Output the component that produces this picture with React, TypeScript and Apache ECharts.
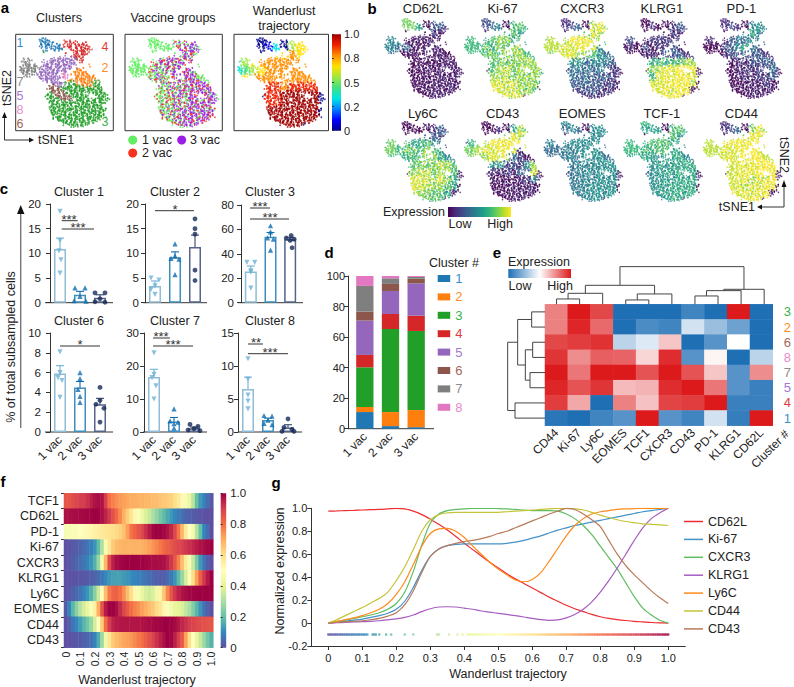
import React, { useEffect, useRef } from "react";
import * as echarts from "echarts";

const FONT = '"Liberation Sans", Arial, sans-serif';
const INK = "#222222";

// ---------- tSNE cloud ----------
const clusterMask = [
  ".................................................",
  ".................................................",
  "............1111.................................",
  "............111111......4.44.4...................",
  "............1111111.....444.4.4.44.4.............",
  "............11.111.1111.4.44444.4444.............",
  ".............111.111111...44.44444444............",
  "..............11...11111...44.444444.4...........",
  ".............................44444444............",
  ".............3...........4...444444.4............",
  "............................4444444..............",
  "......................5.55.5.444.4...............",
  "....77...........5.555555.55555.44...............",
  "...77777......5.55555.555555.5.44................",
  "....777......5.5555555555555.5...................",
  "....7777777...5555.55555555555.......2...........",
  "..777777777.5.55555.5555.555..5..................",
  "..7777777777.555555555.5555...2222...............",
  "..777777777.5555.55555.555...222222..............",
  "...777777..55555555555.88.....2222222............",
  "....777....5555.5555...888..22222222222..........",
  "...........555555555555888...22222222222.........",
  ".............55555555.....222.222222222.2........",
  "...............5555.555.....3.222222222.33.......",
  "..................555555.33333.222222.3333.......",
  ".................666.555.3333333.222222.333......",
  "................66666..33333333333333333333......",
  ".................666666333333333333.33333333.....",
  ".................3666666.3333333333333333333.....",
  "................33.666666.33333333.....333333....",
  "...............3333.6666666.33333333.....33333...",
  "................33333.666666.3333333....33333....",
  "................333333.66666..33333333.33333333..",
  ".................3333333.3333.33333333333333.3...",
  ".................333.33333333.3333333.333333.....",
  ".................33333.33333333.33333333.33......",
  ".................333333333.333333333.33333333....",
  ".................33333.3333333.3333333333.333....",
  ".................3333333333.33333333.33333333....",
  "..................333.333333333.333333333333.....",
  "..................33333333.33333333.333.33333....",
  "...................3333.3333333333333333333......",
  "....................333333.333333.33333333.......",
  "......................33333333.333333.33.........",
  "........................3333333.33333............",
  "...........................3333333...............",
];

const vaccineMask = [
  "ggggggggggggggggggggggggggggggggggggggggggggggggg",
  "ggggggggggggggggggggggggggggggggggggggggggggggggg",
  "ggggggggggggggggggggggggggggggggggggggggggggggggg",
  "ggggggggggggggggggggggggggpgprgpgggg",
  "ggggggggggggggggggggggggpgrgggppgprp",
  "ggggggggggggggggggggggggggprgpgrpppgp",
  "gggggggggggggggggggggggggpgrpprppgpp",
  "gggggggggggggggggggggggggggprpgrppgpp",
  "gggggggggggggggggggggggggggggpprgpprp",
  "ggggggggggggggggggggggggggggprpgprpp",
  "gggggggggggggggggggggggggggprgppgr",
  "ggggggggggggggggggggggprgprpgrpprg",
  "ggggggggggggggggggprgppgrppprgpgrp",
  "ggggggggggggggrgpgprrgpppgrprpgpr",
  "gggggggggggggrgpgrpgprppgrppgrp",
  "gggggggggggggggrpgpgrpppgprgpprpgr",
  "gggggggggggggrggprgpgpgrppgprgpgrp",
  "ggggggggggggggrgpgggprpgprppgpprpgp",
  "gggggggggggggrgpgrggprgpgpprgprppgp",
  "ggggggggggggrgggpgrgpgprpgpprgpprpg",
  "gggggggggggggrgpgprggpgrpprgppgrpppr",
  "gggggggggggrgpggrgpgprggrpgpprgpprppg",
  "gggggggggggggggrpgpgrgpprggprgpprpgpprg",
  "ggggggggggggggggrgpgpgrpprgpgpprgppprpgp",
  "ggggggggggggggggggrgpgpgrgpgprpgpprpgrppp",
  "ggggggggggggggggggggrgpgrppgrgpgpprgprppgpr",
  "ggggggggggggggggrgpgggrpgpgrpgprgpprgprppgp",
  "gggggggggggggggggrgggprgpgrpgprppgrpppgprpppr",
  "gggggggggggggggggggrggpgrgpgpprggrpprpppgrppg",
  "gggggggggggggggggrgpgrgpgrgpprgpgprpppgpprpgp",
  "ggggggggggggggggrggpgggrpgprgpggrpprppgrpppgp",
  "gggggggggggggggggggrgpgrgpgpprggpprpgpgrpprpp",
  "ggggggggggggggggrggpgrgggrpgpgrgppgrpprppgrppp",
  "gggggggggggggggggrgggprggpgrpgprgppprgpgrppprp",
  "ggggggggggggggggggprggrgpgprggrpgpppgrppprpgp",
  "gggggggggggggggggggrgpggrppgprgppgrppprgpprpp",
  "gggggggggggggggggrgggpgrgpgrpggprppgppprgpgpr",
  "ggggggggggggggggggrggprgggpgrppgprpppgrppprpg",
  "gggggggggggggggggrgpgggrpgrgppgprppgrppppgrpp",
  "gggggggggggggggggggrgggpgpgrgppgrpprppgppprp",
  "ggggggggggggggggggrpgggrgppgrpgpprpppgrpppgpr",
  "ggggggggggggggggggggrgpgpgrgpprppgppprgpppr",
  "gggggggggggggggggggggrgggprgpgprpprpgppprp",
  "ggggggggggggggggggggggggrgppgrpgppprpgpr",
  "ggggggggggggggggggggggggggrgpgprppgrp",
  "gggggggggggggggggggggggggggprgppgp",
];

// coarse expression maps: one digit for every 4x4 lattice cells (0 low .. 9 high)
const mapCD62L = ["0088880330000", "0088860220000", "0000010100000", "5560000000000", "5543100000000", "4400000000000", "0000000000000", "0000000000000", "0000000000000", "0000000000000", "0000000000000", "0000000000000"];
const mapKi67 = ["0033330666000", "0003450666000", "0000066655000", "6776677566000", "7777676777000", "7777777777700", "0000777777700", "0000788777770", "0000888777760", "0000998877760", "0000998877600", "0000099880000"];
const mapCXCR3 = ["0022220777000", "0002340888000", "0000077888000", "8998999877000", "9999999844000", "8899987644400", "0000553443200", "0000443332100", "0000433322100", "0000333221100", "0000222211000", "0000011100000"];
const mapKLRG1 = ["0011110111000", "0001210122000", "0000011111000", "2311111111000", "1212111211000", "1111112222200", "0000666667700", "0000889999900", "0000699999800", "0000999999800", "0000999899000", "0000099990000"];
const mapPD1 = ["0022220333000", "0002320444000", "0000034544000", "1211233433000", "1112345322000", "1111232222200", "0000111222200", "0000011111300", "0000011111200", "0000000001000", "0000000000000", "0000000000000"];
const mapLy6C = ["0011110111000", "0001110122000", "0000023222000", "7877556433000", "8877767655000", "6776677755500", "0000777787600", "0000888777600", "0000998887500", "0000998776500", "0000887665000", "0000077660000"];
const mapCD43 = ["0011110333000", "0001120577000", "0000078988000", "3788999999000", "8899999811000", "7888998311100", "0000552214700", "0000211122800", "0000100001300", "0000000000000", "0000000000000", "0000000000000"];
const mapEOMES = ["0055550444000", "0004540444000", "0000044444000", "4544444444000", "4444444444000", "4444444444400", "0000444444400", "0000444444400", "0000444444400", "0000444444400", "0000444444400", "0000044440000"];
const mapTCF1 = ["0077770666000", "0006660666000", "0000066655000", "7776666555000", "7776666555000", "7666555555500", "0000555555500", "0000555555500", "0000555555500", "0000555555500", "0000555555500", "0000055550000"];
const mapCD44 = ["0022220555000", "0002340788000", "0000088999000", "9999999999000", "9999999999000", "9999999999900", "0000999999900", "0000999999900", "0000999888900", "0000998889900", "0000999889000", "0000099990000"];
const mapWanderlust = ["0000000555000", "0000130566000", "0000066766000", "4567777777000", "3456777777000", "5677777777700", "0000887888800", "0000889999900", "0000889999900", "0000999999900", "0000999999900", "0000099990000"];

const expressionPanels = [
  { name: "CD62L", map: mapCD62L }, { name: "Ki-67", map: mapKi67 }, { name: "CXCR3", map: mapCXCR3 }, { name: "KLRG1", map: mapKLRG1 }, { name: "PD-1", map: mapPD1 },
  { name: "Ly6C", map: mapLy6C }, { name: "CD43", map: mapCD43 }, { name: "EOMES", map: mapEOMES }, { name: "TCF-1", map: mapTCF1 }, { name: "CD44", map: mapCD44 },
];

// ---------- panel c ----------
const vacLabels = ["1 vac", "2 vac", "3 vac"];
const cluster1Bars = [10.9, 1.6, 1.0];
const cluster1Err = [2.2, 0.7, 0.6];
const cluster1Pts = [[[0, 18.5], [0, 12.6], [-0.05, 10.5], [0.05, 8.7], [0, 6]], [[-0.25, 3], [0.25, 3], [0, 1.3], [-0.3, 0.4], [0.3, 0.3]], [[-0.25, 2], [0.25, 2], [0, 0.8], [-0.25, 0.2], [0.25, 0.1]]];
const cluster2Bars = [3.4, 9.2, 11.3];
const cluster2Err = [1.0, 1.1, 2.4];
const cluster2Pts = [[[-0.2, 5], [0.2, 4.6], [0, 3.4], [-0.2, 2.7], [0, 1.7]], [[0, 11.9], [0, 9.5], [-0.2, 9], [0.2, 8.8], [0, 5.7]], [[0, 17], [0, 15], [0, 13.9], [0, 6.6], [0, 4.5]]];
const cluster3Bars = [25.5, 54, 52];
const cluster3Err = [4.5, 3.5, 1.5];
const cluster3Pts = [[[-0.2, 33], [0.2, 33], [0, 26], [0, 25], [0, 12]], [[0, 63], [0, 58], [-0.15, 53], [0.15, 52], [0, 43]], [[0.05, 55], [-0.2, 53], [0.2, 52], [0, 51], [0.1, 45]]];
const cluster6Bars = [5.9, 4.5, 2.8];
const cluster6Err = [0.8, 0.6, 0.6];
const cluster6Pts = [[[0, 8.1], [0, 6], [-0.1, 5.5], [0.1, 5.2], [0, 3.5]], [[0, 6], [0, 5.4], [-0.1, 4.3], [0, 3.6], [0, 3]], [[0, 4.5], [0, 3.2], [-0.2, 2.8], [0.2, 2.4], [0, 1]]];
const cluster7Bars = [16.7, 3.2, 1.1];
const cluster7Err = [2.3, 1.2, 0.4];
const cluster7Pts = [[[0, 24], [0, 17.5], [-0.1, 16.5], [0.1, 14], [0, 10]], [[0, 7], [-0.2, 3.4], [0.2, 3], [0, 2.5], [0, 1.2]], [[-0.2, 2.3], [0.2, 1.7], [0, 1], [-0.3, 0.6], [0.3, 0.4]]];
const cluster8Bars = [6.5, 1.8, 0.7];
const cluster8Err = [1.8, 0.3, 0.4];
const cluster8Pts = [[[0, 11.1], [0, 8], [0, 5.6], [0, 4.7], [0, 3.5]], [[-0.2, 2.5], [0.2, 2.4], [0, 1.8], [-0.2, 1.3], [0.2, 1.1]], [[0, 2], [-0.2, 0.7], [0.2, 0.4], [-0.3, 0.1], [0.3, 0.1]]];

const barStroke = ["#8fbcd6", "#3f8dbd", "#56648a"];
const pointColor = ["#6fb1d6", "#0f6cae", "#162a57"];

// ---------- panel d ----------
const clusterColors = ["#1f77b4", "#ff7f0e", "#229f28", "#d62728", "#9467bd", "#8c564b", "#7f7f7f", "#e377c2"];
const clusterTextColors = ["#3a8fd0", "#ff8c1e", "#37b34a", "#e03c3c", "#a678d0", "#a0685a", "#8c8c8c", "#ea8ccc"];
const stack1vac = [10.9, 3.3, 26, 8.1, 22.5, 5.9, 16.8, 6.6];
const stack2vac = [1.7, 9.2, 54.4, 9.8, 15.1, 4.6, 3.7, 1.5];
const stack3vac = [1, 11.2, 51.8, 10, 21.2, 3, 1.2, 0.7];

// ---------- panel e ----------
const heatGenes = ["CD44", "Ki-67", "Ly6C", "EOMES", "TCF1", "CXCR3", "CD43", "PD-1", "KLRG1", "CD62L"];
const heatClusters = ["3", "2", "6", "8", "7", "5", "4", "1"];
const heatRow3 = [0.55, 1, 0.8, -1, -1, -1, -0.85, -1, 1, -1];
const heatRow2 = [0.55, 0.95, 0.65, -1, -0.8, -0.85, -0.2, -0.45, -0.65, -1];
const heatRow6 = [0.8, 0.85, 0.9, -0.3, -0.15, 0.25, -1, -0.75, 0, -1];
const heatRow8 = [0.88, 0.5, 0.7, 0.68, 0.18, 0.92, -0.75, 0.05, -1, -0.3];
const heatRow7 = [1, 0.6, 1, 1, 0.75, 1, 0.75, 0.25, -0.75, 0.5];
const heatRow5 = [0.95, 0.75, 0.88, 0.3, 0.33, 0.92, 1, 0.6, -0.75, -0.88];
const heatRow4 = [0.85, 0.38, -1, 0.55, 0.27, 0.82, 0.85, 1, -0.88, -0.88];
const heatRow1 = [-0.95, -1, -0.85, -0.75, 1, -0.75, -0.85, -0.2, -0.9, 1];
const heatRows = [heatRow3, heatRow2, heatRow6, heatRow8, heatRow7, heatRow5, heatRow4, heatRow1];
// merges: position a, height a, position b, height b, merge height
const geneTree = [[0.5, 0, 1.5, 0, 16], [1, 16, 2.5, 0, 33], [3.5, 0, 4.5, 0, 13], [4, 13, 5.5, 0, 31], [1.75, 33, 4.75, 31, 57], [6.5, 0, 7.5, 0, 25], [7, 25, 8.5, 0, 41], [7.75, 41, 9.5, 0, 45], [3.25, 57, 8.625, 45, 113]];
const clusterTree = [[0.5, 0, 1.5, 0, 40], [2.5, 0, 3.5, 0, 37], [4.5, 0, 5.5, 0, 45], [3, 37, 5, 45, 59], [1, 40, 4, 59, 82], [6.5, 0, 7.5, 0, 90], [2.5, 82, 7, 90, 112]];

// ---------- panels f and g ----------
const trajectory = [0, 0.025, 0.05, 0.075, 0.1, 0.125, 0.15, 0.175, 0.2, 0.225, 0.25, 0.275, 0.3, 0.325, 0.35, 0.375, 0.4, 0.425, 0.45, 0.475, 0.5, 0.525, 0.55, 0.575, 0.6, 0.625, 0.65, 0.675, 0.7, 0.725, 0.75, 0.775, 0.8, 0.825, 0.85, 0.875, 0.9, 0.925, 0.95, 0.975, 1];
const CD62L = [0.975, 0.977, 0.98, 0.982, 0.985, 0.988, 0.99, 0.995, 1, 0.995, 0.975, 0.945, 0.905, 0.86, 0.81, 0.755, 0.695, 0.64, 0.585, 0.53, 0.48, 0.43, 0.385, 0.345, 0.305, 0.265, 0.225, 0.19, 0.155, 0.125, 0.1, 0.075, 0.055, 0.04, 0.03, 0.022, 0.015, 0.01, 0.005, 0.002, 0];
const Ki67 = [0, 0.008, 0.016, 0.025, 0.035, 0.05, 0.065, 0.085, 0.12, 0.19, 0.31, 0.46, 0.58, 0.645, 0.675, 0.685, 0.69, 0.69, 0.69, 0.69, 0.69, 0.695, 0.705, 0.72, 0.74, 0.76, 0.785, 0.81, 0.83, 0.85, 0.865, 0.88, 0.895, 0.91, 0.925, 0.94, 0.955, 0.97, 0.98, 0.99, 1];
const CXCR3 = [0, 0.012, 0.025, 0.04, 0.055, 0.07, 0.09, 0.12, 0.17, 0.27, 0.45, 0.68, 0.87, 0.95, 0.98, 0.99, 0.995, 1, 1, 1, 0.998, 0.995, 0.99, 0.985, 0.98, 0.98, 0.98, 0.975, 0.95, 0.91, 0.85, 0.77, 0.67, 0.57, 0.47, 0.35, 0.23, 0.13, 0.07, 0.025, 0];
const KLRG1 = [0, 0.003, 0.006, 0.009, 0.012, 0.015, 0.02, 0.028, 0.037, 0.05, 0.07, 0.1, 0.125, 0.14, 0.142, 0.14, 0.13, 0.12, 0.105, 0.095, 0.085, 0.075, 0.065, 0.053, 0.04, 0.03, 0.024, 0.027, 0.045, 0.075, 0.12, 0.185, 0.27, 0.37, 0.48, 0.6, 0.72, 0.83, 0.91, 0.96, 1];
const Ly6C = [0, 0.015, 0.03, 0.045, 0.065, 0.09, 0.12, 0.17, 0.25, 0.36, 0.51, 0.67, 0.78, 0.82, 0.825, 0.8, 0.745, 0.67, 0.6, 0.53, 0.47, 0.42, 0.375, 0.36, 0.38, 0.44, 0.54, 0.65, 0.76, 0.85, 0.91, 0.95, 0.97, 0.98, 0.99, 0.995, 0.998, 1, 1, 1, 1];
const CD44 = [0, 0.03, 0.065, 0.1, 0.135, 0.175, 0.215, 0.27, 0.37, 0.49, 0.64, 0.8, 0.9, 0.945, 0.96, 0.965, 0.965, 0.965, 0.965, 0.965, 0.965, 0.97, 0.975, 0.98, 0.985, 0.99, 0.995, 1, 1, 0.995, 0.985, 0.965, 0.94, 0.92, 0.9, 0.885, 0.875, 0.865, 0.86, 0.855, 0.85];
const CD43 = [0, 0.005, 0.01, 0.015, 0.02, 0.03, 0.04, 0.06, 0.09, 0.16, 0.28, 0.44, 0.58, 0.645, 0.675, 0.695, 0.71, 0.72, 0.735, 0.755, 0.78, 0.8, 0.83, 0.86, 0.89, 0.92, 0.95, 0.975, 1, 0.99, 0.95, 0.9, 0.84, 0.72, 0.6, 0.5, 0.42, 0.35, 0.28, 0.22, 0.17];
const TCF1 = [0.85, 0.85, 0.87, 0.88, 0.9, 0.9, 0.92, 0.95, 0.97, 0.98, 0.97, 0.9, 0.8, 0.77, 0.75, 0.73, 0.72, 0.71, 0.7, 0.7, 0.69, 0.69, 0.68, 0.68, 0.67, 0.67, 0.66, 0.65, 0.64, 0.63, 0.6, 0.57, 0.52, 0.47, 0.42, 0.33, 0.2, 0.13, 0.09, 0.05, 0.02];
const PD1 = [0.47, 0.47, 0.48, 0.48, 0.5, 0.51, 0.52, 0.53, 0.55, 0.56, 0.57, 0.58, 0.59, 0.6, 0.61, 0.63, 0.66, 0.72, 0.79, 0.82, 0.85, 0.88, 0.92, 0.96, 0.99, 1, 1, 0.99, 0.97, 0.94, 0.88, 0.79, 0.68, 0.57, 0.5, 0.45, 0.32, 0.2, 0.1, 0.05, 0];
const EOMES = [0.02, 0.1, 0.18, 0.25, 0.32, 0.37, 0.42, 0.48, 0.55, 0.7, 0.85, 0.96, 1, 1, 0.98, 0.93, 0.88, 0.84, 0.8, 0.77, 0.75, 0.72, 0.7, 0.67, 0.65, 0.61, 0.58, 0.53, 0.48, 0.45, 0.42, 0.4, 0.38, 0.34, 0.3, 0.24, 0.18, 0.12, 0.06, 0.03, 0];
const fRows = [["TCF1", TCF1], ["CD62L", CD62L], ["PD-1", PD1], ["Ki-67", Ki67], ["CXCR3", CXCR3], ["KLRG1", KLRG1], ["Ly6C", Ly6C], ["EOMES", EOMES], ["CD44", CD44], ["CD43", CD43]] as const;
const gLines = [["CD62L", CD62L, "#ee2b30"], ["Ki-67", Ki67, "#4392c9"], ["CXCR3", CXCR3, "#5fbc5f"], ["KLRG1", KLRG1, "#a65cc2"], ["Ly6C", Ly6C, "#ff8a1c"], ["CD44", CD44, "#c4c43a"], ["CD43", CD43, "#b87a5a"]] as const;
const earlyCells = [0, 0.005, 0.01, 0.015, 0.02, 0.025, 0.03, 0.035, 0.04, 0.045, 0.05, 0.055, 0.06, 0.065, 0.07, 0.075, 0.08, 0.085, 0.09, 0.095, 0.1, 0.105, 0.11, 0.115, 0.13, 0.135, 0.14, 0.15, 0.17, 0.185, 0.225, 0.25, 0.32, 0.325, 0.355, 0.38, 0.395];
const lateCells = [0.41, 0.415, 0.42, 0.425, 0.43, 0.435, 0.44, 0.445, 0.45, 0.455, 0.46, 0.465, 0.47, 0.475, 0.48, 0.485, 0.49, 0.495, 0.5, 0.505, 0.51, 0.515, 0.52, 0.525, 0.53, 0.535, 0.54, 0.545, 0.55, 0.555, 0.56, 0.565, 0.57, 0.575, 0.58, 0.585, 0.59, 0.595, 0.6, 0.605, 0.61, 0.615, 0.62, 0.625, 0.63, 0.635, 0.64, 0.645, 0.65, 0.655, 0.66, 0.665, 0.67, 0.675, 0.68, 0.685, 0.69, 0.695, 0.7, 0.705, 0.71, 0.715, 0.72, 0.725, 0.73, 0.735, 0.74, 0.745, 0.75, 0.755, 0.76, 0.765, 0.77, 0.775, 0.78, 0.785, 0.79, 0.795, 0.8, 0.805, 0.81, 0.815, 0.82, 0.825, 0.83, 0.835, 0.84, 0.845, 0.85, 0.855, 0.86, 0.865, 0.87, 0.875, 0.88, 0.885, 0.89, 0.895, 0.9, 0.905, 0.91, 0.915, 0.92, 0.925, 0.93, 0.935, 0.94, 0.945, 0.95, 0.955, 0.96, 0.965, 0.97, 0.975, 0.98, 0.985, 0.99, 0.995, 1];
const cellPositions = [...earlyCells, ...lateCells];
const unitTicks = [0, 0.1, 0.2, 0.3, 0.4, 0.5, 0.6, 0.7, 0.8, 0.9, 1];

const viridis = ["#440154", "#482878", "#3e4989", "#31688e", "#26828e", "#1f9e89", "#35b779", "#6ece58", "#b5de2b", "#fde725"];
const jet = ["#00008b", "#0000ff", "#0080ff", "#00e5e5", "#40e080", "#a0e840", "#ffe000", "#ff9000", "#f02000", "#a00000"];
const spectral = ["#5e4fa2", "#3288bd", "#66c2a5", "#abdda4", "#e6f598", "#ffffbf", "#fee08b", "#fdae61", "#f46d43", "#d53e4f", "#9e0142"];
const blueRed = ["#1f6fb5", "#ffffff", "#dc1a1c"];
const clusterPalette: any = { 1: clusterColors[0], 2: clusterColors[1], 3: clusterColors[2], 4: clusterColors[3], 5: clusterColors[4], 6: clusterColors[5], 7: clusterColors[6], 8: clusterColors[7] };
const vaccinePalette: any = { g: "#62ee62", r: "#f4321e", p: "#9a1fe6" };
const vaccineShift: any = { g: -1, r: 0, p: 1 };
// small sub-cell nudges that break up the drawing lattice (style, in lattice cells)
const nudgeX = [0.6, -0.5, 0.2, -0.7, 0.4, 0.8, -0.2, -0.6, 0.7, -0.3, 0.1, 0.5, -0.8, 0.3, -0.4];
const nudgeY = [-0.4, 0.7, -0.7, 0.2, 0.6, -0.2, 0.4, -0.6, 0.1, 0.8, -0.5, 0.3, -0.3, 0.7, -0.8, 0.5, 0];

function buildOption() {
  const grids: any[] = [], xAxes: any[] = [], yAxes: any[] = [], series: any[] = [], graphics: any[] = [], visualMaps: any[] = [];
  const T = (text: string, x: number, y: number, o: any = {}) =>
    graphics.push({ type: "text", x, y, rotation: o.rot || 0, silent: true, style: { text, fill: o.color || INK, font: `${o.weight || "normal"} ${o.size || 12.5}px ${FONT}`, textAlign: o.align || "center", textVerticalAlign: "middle" } });
  const L = (x1: number, y1: number, x2: number, y2: number, color = "#333", w = 1) =>
    graphics.push({ type: "line", silent: true, shape: { x1, y1, x2, y2 }, style: { stroke: color, lineWidth: w } });
  const Head = (pts: number[][]) => graphics.push({ type: "polygon", silent: true, shape: { points: pts }, style: { fill: "#111" } });
  const Grad = (x: number, y: number, w: number, h: number, colors: string[], vertical: boolean) =>
    graphics.push({
      type: "rect", silent: true, shape: { x, y, width: w, height: h },
      style: { fill: new echarts.graphic.LinearGradient(0, vertical ? 1 : 0, vertical ? 0 : 1, 0, colors.map((color, i) => ({ offset: i / (colors.length - 1), color }))) },
    });

  const addGrid = (left: number, top: number, width: number, height: number, extra: any = {}) => {
    grids.push({ left, top, width, height, containLabel: false, ...extra });
    return grids.length - 1;
  };

  // ---- tSNE clouds: every mask cell is drawn as two cells' worth of points ----
  const cells: { x: number; y: number; r: number; c: number; k: string; v: string }[] = [];
  clusterMask.forEach((row, r) => {
    for (let c = 0; c < row.length; c++)
      if (row[c] !== ".") {
        cells.push({
          r, c, k: row[c], v: vaccineMask[r]?.[c] || "g",
          x: c + 0.5 + nudgeX[(c + r * 4) % nudgeX.length],
          y: r + 0.5 + nudgeY[(c * 3 + r) % nudgeY.length],
        });
        cells.push({
          r, c, k: row[c], v: vaccineMask[r]?.[c + 1] || vaccineMask[r]?.[c] || "g",
          x: c + 0.5 + nudgeX[(c * 2 + r * 3 + 7) % nudgeX.length],
          y: r + 0.5 + nudgeY[(c + r * 5 + 3) % nudgeY.length],
        });
      }
  });
  const cloud = (left: number, top: number, w: number, h: number, color: (p: any) => string, size: number, box: boolean) => {
    const g = addGrid(left, top, w, h, box ? { show: true, borderColor: "#333", borderWidth: 1, backgroundColor: "#fff" } : {});
    xAxes.push({ gridIndex: g, type: "value", min: 0, max: 49, show: false });
    yAxes.push({ gridIndex: g, type: "value", min: 0, max: 48, inverse: true, show: false });
    series.push({
      type: "scatter", xAxisIndex: xAxes.length - 1, yAxisIndex: yAxes.length - 1, symbol: "circle", symbolSize: size, silent: true, progressive: 0, large: false,
      data: cells.map((p) => ({ value: [p.x, p.y], itemStyle: { color: color(p) } })),
    });
  };
  const digit = (map: string[], p: any) => Number(map[Math.floor(p.r / 4)]?.[Math.floor(p.c / 4)] ?? 0);
  cloud(15.7, 34.3, 97.6, 96.4, (p) => clusterPalette[p.k], 1.7, true);
  cloud(125, 34.3, 97.3, 96.4, (p) => vaccinePalette[p.v], 1.7, true);
  cloud(234, 34.3, 94.5, 96.4, (p) => jet[digit(mapWanderlust, p)], 1.7, true);
  expressionPanels.forEach((pan, i) => {
    const col = i % 5, row = Math.floor(i / 5);
    cloud(381.5 + col * 79.6, row === 0 ? 15.4 : 118.4, 85, 86, (p) => viridis[Math.max(0, Math.min(9, digit(pan.map, p) + vaccineShift[p.v]))], 1.5, false);
    T(pan.name, 423 + col * 79.6, row === 0 ? 8 : 113, { size: 13 });
  });

  // ---- a labels ----
  T("a", 5, 7, { size: 15, weight: "bold", color: "#000" });
  T("b", 372, 8, { size: 15, weight: "bold", color: "#000" });
  T("c", 4, 188, { size: 15, weight: "bold", color: "#000" });
  T("d", 329, 252, { size: 15, weight: "bold", color: "#000" });
  T("e", 497, 252, { size: 15, weight: "bold", color: "#000" });
  T("f", 3, 481, { size: 15, weight: "bold", color: "#000" });
  T("g", 276, 482, { size: 15, weight: "bold", color: "#000" });
  T("Clusters", 59, 18);
  T("Vaccine groups", 173, 18);
  T("Wanderlust", 284, 11);
  T("trajectory", 284, 26);
  [["1", 20, 43, 0], ["4", 105, 47, 3], ["2", 105, 68, 1], ["7", 20, 82, 6], ["5", 20, 96, 4], ["8", 20, 110, 7], ["6", 20, 124, 5], ["3", 105, 122, 2]].forEach((a: any) =>
    T(a[0], a[1], a[2], { size: 12.5, color: clusterTextColors[a[3]] }));
  T("tSNE2", 7, 88, { rot: Math.PI / 2 });
  T("tSNE1", 38, 140, { align: "left" });
  L(4.5, 140, 30, 140, "#333"); L(4.5, 140, 4.5, 118, "#333");
  Head([[34, 140], [29, 137.5], [29, 142.5]]);
  Head([[4.5, 112], [2, 118], [7, 118]]);
  [[132.7, 140, "g", "1 vac", 142], [181.7, 140, "p", "3 vac", 190], [132.7, 153, "r", "2 vac", 142]].forEach((a: any) => {
    graphics.push({ type: "circle", silent: true, shape: { cx: a[0], cy: a[1], r: 4.5 }, style: { fill: vaccinePalette[a[2]] } });
    T(a[3], a[4], a[1], { align: "left" });
  });
  // jet colour bar
  Grad(332, 34.3, 9, 96.4, jet, true);
  {
    const g = addGrid(332, 34.3, 9, 96.4);
    xAxes.push({ gridIndex: g, type: "value", min: 0, max: 1, show: false });
    yAxes.push({
      gridIndex: g, type: "value", position: "right", min: 0, max: 1, interval: 0.25, splitLine: { show: false },
      axisLine: { show: false }, axisTick: { show: true, length: 2, lineStyle: { color: "#333" } },
      axisLabel: { color: INK, fontSize: 11, margin: 3, formatter: (v: number) => ({ 0: "0", 0.25: "0.2", 0.5: "0.5", 0.75: "0.8", 1: "1.0" } as any)[v] },
    });
  }

  // ---- b furniture ----
  T("tSNE2", 784, 155, { rot: -Math.PI / 2 });
  T("tSNE1", 755, 207, { align: "right" });
  L(784, 207, 762, 207, "#333"); L(784, 207, 784, 187, "#333");
  Head([[757, 207], [762, 204.5], [762, 209.5]]);
  Head([[784, 180], [781.5, 187], [786.5, 187]]);
  T("Expression", 383, 212, { align: "left" });
  Grad(448, 207, 63, 10, viridis, false);
  T("Low", 460, 224);
  T("High", 500, 224);

  // ---- c ----
  const cPanel = (title: string, titleX: number, titleY: number, left: number, width: number, top: number, height: number, offset: number, axisEnd: number, yMax: number, yStep: number, bars: number[], err: number[], pts: number[][][], showLabels: boolean) => {
    const g = addGrid(left, top, width, height);
    xAxes.push({
      gridIndex: g, type: "category", data: vacLabels, axisLine: { show: false },
      axisTick: { alignWithLabel: true, length: 4, lineStyle: { color: "#333" } },
      axisLabel: showLabels ? { rotate: 45, fontSize: 12, color: INK, margin: 6, interval: 0 } : { show: false },
    });
    const xCat = xAxes.length - 1;
    xAxes.push({ gridIndex: g, type: "value", min: 0, max: 3, show: false });
    const xVal = xAxes.length - 1;
    yAxes.push({
      gridIndex: g, type: "value", min: 0, max: yMax, interval: yStep, offset, splitLine: { show: false },
      axisLine: { show: true, lineStyle: { color: "#333" } }, axisTick: { show: true, length: 4, lineStyle: { color: "#333" } },
      axisLabel: { color: INK, fontSize: 11.5, margin: 4 },
    });
    const y = yAxes.length - 1;
    L(left - offset, top + height, axisEnd, top + height);
    T(title, titleX, titleY);
    series.push({
      type: "bar", xAxisIndex: xCat, yAxisIndex: y, barWidth: 12, silent: true,
      data: bars.map((v, i) => ({ value: v, itemStyle: { color: "#fff", borderColor: barStroke[i], borderWidth: 1.5 } })),
    });
    series.push({
      type: "custom", xAxisIndex: xVal, yAxisIndex: y, silent: true, encode: { x: 0, y: [1, 2] },
      data: bars.map((v, i) => [i + 0.5, v - err[i], v + err[i], i]),
      renderItem: (_: any, api: any) => {
        const lo = api.coord([api.value(0), api.value(1)]), hi = api.coord([api.value(0), api.value(2)]);
        const stroke = barStroke[api.value(3)] === barStroke[2] ? "#33456f" : pointColor[api.value(3)];
        const line = (x1: number, y1: number, x2: number, y2: number) => ({ type: "line", shape: { x1, y1, x2, y2 }, style: { stroke, lineWidth: 1.1 } });
        return { type: "group", children: [line(lo[0], lo[1], hi[0], hi[1]), line(lo[0] - 4, lo[1], lo[0] + 4, lo[1]), line(hi[0] - 4, hi[1], hi[0] + 4, hi[1])] };
      },
    });
    pts.forEach((grp, i) =>
      series.push({
        type: "scatter", xAxisIndex: xVal, yAxisIndex: y, silent: true, symbol: i === 2 ? "circle" : "triangle", symbolRotate: i === 0 ? 180 : 0, symbolSize: i === 2 ? 4.8 : 5.2,
        itemStyle: { color: pointColor[i] }, data: grp.map((p) => [i + 0.5 + p[0], p[1]]),
      }));
  };
  cPanel("Cluster 1", 79, 192, 50, 60, 204, 98.7, 5, 113, 20, 5, cluster1Bars, cluster1Err, cluster1Pts, false);
  cPanel("Cluster 2", 175, 192, 145, 60, 204, 98.7, 2, 207, 20, 5, cluster2Bars, cluster2Err, cluster2Pts, false);
  cPanel("Cluster 3", 270, 192, 241, 59, 205, 97.7, 3, 303, 80, 20, cluster3Bars, cluster3Err, cluster3Pts, false);
  cPanel("Cluster 6", 79, 321, 50, 60, 333, 99, 5, 113, 10, 2, cluster6Bars, cluster6Err, cluster6Pts, true);
  cPanel("Cluster 7", 175, 321, 144, 60, 333, 99, 1, 207, 30, 10, cluster7Bars, cluster7Err, cluster7Pts, true);
  cPanel("Cluster 8", 270, 321, 238, 60, 333, 99, 0, 302, 15, 5, cluster8Bars, cluster8Err, cluster8Pts, true);
  const Sig = (x1: number, x2: number, y: number, stars: string, tx: number) => {
    L(x1, y, x2, y, "#333", 1);
    T(stars, tx, y - 1.5, { size: 13, color: "#333" });
  };
  Sig(61.7, 77.7, 220.7, "***", 69); Sig(61.7, 94, 229, "***", 78);
  Sig(155, 194, 210.7, "*", 175);
  Sig(250, 270, 208, "***", 260); Sig(250, 289, 219, "***", 270);
  Sig(60, 100, 346, "*", 80);
  Sig(153, 170, 338, "***", 161); Sig(153, 193, 346, "***", 173);
  Sig(248, 263, 344, "**", 256); Sig(248, 288, 353.7, "***", 270);
  T("% of total subsampled cells", 11, 347, { rot: Math.PI / 2 });
  L(20.7, 428, 20.7, 212, "#777", 1.4);
  Head([[20.7, 205], [17, 214], [24.5, 214]]);

  // ---- d ----
  {
    const g = addGrid(352, 276, 77, 152.7);
    xAxes.push({
      gridIndex: g, type: "category", data: vacLabels, axisLine: { show: false },
      axisTick: { alignWithLabel: true, length: 4, lineStyle: { color: "#333" } },
      axisLabel: { rotate: 45, fontSize: 12, color: INK, margin: 6, interval: 0 },
    });
    yAxes.push({
      gridIndex: g, type: "value", min: 0, max: 100, interval: 20, offset: 4, splitLine: { show: false },
      axisLine: { show: true, lineStyle: { color: "#333" } }, axisTick: { show: true, length: 4, lineStyle: { color: "#333" } },
      axisLabel: { color: INK, fontSize: 11, margin: 3 },
    });
    clusterColors.forEach((color, i) =>
      series.push({
        type: "bar", name: String(i + 1), stack: "d", xAxisIndex: xAxes.length - 1, yAxisIndex: yAxes.length - 1, barWidth: 17.3, silent: true,
        itemStyle: { color }, data: [stack1vac[i], stack2vac[i], stack3vac[i]],
      }));
    L(348, 428.7, 434, 428.7);
    T("Cluster #", 454, 263);
  }

  // ---- e ----
  {
    const g = addGrid(545, 304.3, 230.7, 121.4);
    xAxes.push({
      gridIndex: g, type: "category", data: heatGenes, axisLine: { show: false }, axisTick: { show: false },
      axisLabel: { rotate: 45, fontSize: 12, color: INK, margin: 5, interval: 0 }, splitLine: { show: false },
    });
    yAxes.push({
      gridIndex: g, type: "category", inverse: true, position: "right", axisLine: { show: false }, axisTick: { show: false },
      data: heatClusters.map((c) => ({ value: c, textStyle: { color: clusterTextColors[Number(c) - 1] } })),
      axisLabel: { fontSize: 13, margin: 11, align: "center", interval: 0 }, splitLine: { show: false },
    });
    const data: number[][] = [];
    heatRows.forEach((row, r) => row.forEach((v, c) => data.push([c, r, v])));
    series.push({ type: "heatmap", xAxisIndex: xAxes.length - 1, yAxisIndex: yAxes.length - 1, silent: true, progressive: 0, data });
    visualMaps.push({ show: false, seriesIndex: series.length - 1, min: -1, max: 1, inRange: { color: blueRed } });
    T("Cluster #", 787, 432, { rot: Math.PI / 4, align: "right", size: 12 });
    T("Expression", 508, 262, { align: "left" });
    Grad(508.3, 269, 62.7, 9, blueRed, false);
    T("Low", 520, 285.7);
    T("High", 560, 285.7);

    const treeItem = (horizontal: boolean) => (_: any, api: any) => {
      const p = (pos: number, h: number) => api.coord(horizontal ? [pos, h] : [h, pos]);
      const a = api.value(0), ha = api.value(1), b = api.value(2), hb = api.value(3), h = api.value(4);
      return { type: "polyline", shape: { points: [p(a, ha), p(a, h), p(b, h), p(b, hb)] }, style: { stroke: "#444", fill: "none", lineWidth: 1 } };
    };
    const t = addGrid(545, 264.3, 230.7, 40);
    xAxes.push({ gridIndex: t, type: "value", min: 0, max: 10, show: false });
    yAxes.push({ gridIndex: t, type: "value", min: 0, max: 120, show: false });
    series.push({ type: "custom", xAxisIndex: xAxes.length - 1, yAxisIndex: yAxes.length - 1, silent: true, encode: { x: [0, 2], y: [1, 3, 4] }, data: geneTree, renderItem: treeItem(true) });
    const s = addGrid(505, 304.3, 40, 121.4);
    xAxes.push({ gridIndex: s, type: "value", min: 0, max: 120, inverse: true, show: false });
    yAxes.push({ gridIndex: s, type: "value", min: 0, max: 8, inverse: true, show: false });
    series.push({ type: "custom", xAxisIndex: xAxes.length - 1, yAxisIndex: yAxes.length - 1, silent: true, encode: { y: [0, 2], x: [1, 3, 4] }, data: clusterTree, renderItem: treeItem(false) });
  }

  // ---- f ----
  {
    const g = addGrid(64, 493.3, 149.3, 154.4);
    xAxes.push({
      gridIndex: g, type: "category", data: trajectory.map(String), axisLine: { show: false },
      axisTick: { alignWithLabel: true, interval: 3, length: 3, lineStyle: { color: "#333" } },
      axisLabel: { interval: 3, rotate: 90, fontSize: 10.5, color: INK, margin: 4, formatter: (v: string) => (v === "0" ? "0" : Number(v).toFixed(1)) },
    });
    yAxes.push({
      gridIndex: g, type: "category", inverse: true, data: fRows.map((r) => r[0]), axisLine: { show: false }, axisTick: { show: true, length: 3, lineStyle: { color: "#333" } },
      axisLabel: { fontSize: 12.5, color: INK, margin: 5, interval: 0 },
    });
    const data: number[][] = [];
    fRows.forEach((row, r) => (row[1] as readonly number[]).forEach((v, c) => data.push([c, r, v])));
    series.push({ type: "heatmap", xAxisIndex: xAxes.length - 1, yAxisIndex: yAxes.length - 1, silent: true, progressive: 0, data });
    visualMaps.push({ show: false, seriesIndex: series.length - 1, min: 0, max: 1, inRange: { color: spectral } });
    T("Wanderlust trajectory", 137, 680);
    Grad(220.7, 493.3, 5.5, 154.4, spectral, true);
    const b = addGrid(220.7, 493.3, 5.5, 154.4);
    xAxes.push({ gridIndex: b, type: "value", min: 0, max: 1, show: false });
    yAxes.push({
      gridIndex: b, type: "value", position: "right", min: 0, max: 1, interval: 0.2, splitLine: { show: false },
      axisLine: { show: false }, axisTick: { show: true, length: 2, lineStyle: { color: "#333" } },
      axisLabel: { color: INK, fontSize: 11.5, margin: 4, formatter: (v: number) => (v === 0 ? "0" : v.toFixed(1)) },
    });
  }

  // ---- g ----
  {
    const g = addGrid(311.3, 508.3, 374, 137.7);
    xAxes.push({
      gridIndex: g, type: "value", min: -0.05, max: 1.05, splitLine: { show: false },
      axisLine: { show: true, onZero: false, lineStyle: { color: "#333" } },
      axisTick: { show: true, length: 4, customValues: unitTicks, lineStyle: { color: "#333" } },
      axisLabel: { fontSize: 11, color: INK, margin: 6, customValues: unitTicks, formatter: (v: number) => (v === 0 ? "0" : v.toFixed(1)) },
    });
    yAxes.push({
      gridIndex: g, type: "value", min: -0.2, max: 1, interval: 0.2, splitLine: { show: false },
      axisLine: { show: true, onZero: false, lineStyle: { color: "#333" } }, axisTick: { show: true, length: 4, lineStyle: { color: "#333" } },
      axisLabel: { color: INK, fontSize: 11, margin: 4, formatter: (v: number) => (Math.abs(v) < 1e-6 ? "0" : v.toFixed(1)) },
    });
    const xi = xAxes.length - 1, yi = yAxes.length - 1;
    series.push({ type: "scatter", xAxisIndex: xi, yAxisIndex: yi, silent: true, symbol: "rect", symbolSize: [2.2, 2.4], progressive: 0, data: cellPositions.map((x) => [x, -0.1]) });
    visualMaps.push({ show: false, seriesIndex: series.length - 1, dimension: 0, min: 0, max: 1, inRange: { color: spectral } });
    gLines.forEach(([name, values, color]) =>
      series.push({
        type: "line", name, xAxisIndex: xi, yAxisIndex: yi, silent: true, showSymbol: false, symbol: "none", smooth: 0.3, color,
        lineStyle: { color, width: 1.2 }, itemStyle: { color }, data: trajectory.map((t, i) => [t, (values as readonly number[])[i]]),
      }));
    T("Wanderlust trajectory", 508, 674);
    T("Normalized expression", 280, 571, { rot: Math.PI / 2 });
  }

  return {
    animation: false,
    backgroundColor: "#fff",
    textStyle: { fontFamily: FONT },
    tooltip: { show: false },
    grid: grids,
    xAxis: xAxes,
    yAxis: yAxes,
    series,
    visualMap: visualMaps,
    graphic: { elements: graphics },
    legend: [
      {
        orient: "vertical", left: 437.7, top: 272, padding: 0, itemWidth: 12.5, itemHeight: 7, itemGap: 5.4, icon: "rect", selectedMode: false,
        textStyle: { fontSize: 13 }, data: clusterColors.map((_, i) => ({ name: String(i + 1), textStyle: { color: clusterTextColors[i], fontSize: 13 } })),
      },
      {
        orient: "vertical", left: 684, top: 515, padding: 0, itemWidth: 19, itemHeight: 1.5, itemGap: 4.9, icon: "rect", selectedMode: false,
        textStyle: { fontSize: 12.5, color: INK }, data: gLines.map((l) => l[0] as string),
      },
    ],
  };
}

export default function App() {
  const ref = useRef<HTMLDivElement>(null);
  useEffect(() => {
    const chart = echarts.init(ref.current!, undefined, { renderer: "svg" });
    chart.setOption(buildOption() as any);
    return () => chart.dispose();
  }, []);
  return <div ref={ref} style={{ position: "absolute", left: 0, top: 0, width: 794, height: 687 }} />;
}
